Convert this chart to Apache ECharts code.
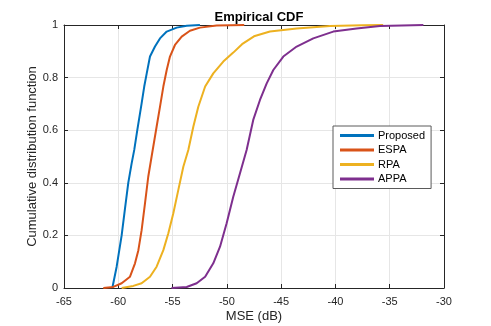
<!DOCTYPE html>
<html>
<head>
<meta charset="utf-8">
<script src="https://cdn.jsdelivr.net/npm/echarts@6/dist/echarts.min.js"></script>
<style>
html,body{margin:0;padding:0;background:#fff;}
#c{width:491px;height:326px;}
</style>
</head>
<body>
<div id="c"></div>
<script>
var seriesNames = ['Proposed', 'ESPA', 'RPA', 'APPA'];
var seriesColors = ['#0072BD', '#D95319', '#EDB120', '#7E2F8E'];

var proposedX = [-60.55, -60.15, -59.69, -59.38, -59.08, -58.77, -58.53, -58.25, -57.85, -57.61, -57.38, -57.08, -56.62, -56.16, -55.54, -54.62, -53.7, -52.48];
var proposedY = [0, 0.081, 0.2, 0.303, 0.4, 0.474, 0.525, 0.6, 0.702, 0.766, 0.816, 0.88, 0.918, 0.949, 0.975, 0.99, 0.997, 1.0];

var espaX = [-61.38, -60.46, -59.69, -58.92, -58.46, -58.15, -57.85, -57.54, -57.24, -56.93, -56.47, -56.16, -55.85, -55.54, -55.24, -54.78, -54.16, -53.4, -52.48, -50.94, -48.4];
var espaY = [0, 0.004, 0.018, 0.043, 0.094, 0.144, 0.22, 0.322, 0.423, 0.5, 0.613, 0.689, 0.766, 0.829, 0.88, 0.924, 0.956, 0.978, 0.99, 0.998, 1.0];

var rpaX = [-59.69, -58.62, -57.85, -57.08, -56.47, -55.85, -55.39, -54.93, -54.47, -54.01, -53.55, -53.09, -52.63, -52.0, -51.25, -50.33, -49.41, -48.6, -47.5, -46.03, -43.57, -40.5, -37.5, -35.6];
var rpaY = [0, 0.008, 0.018, 0.043, 0.081, 0.144, 0.208, 0.284, 0.373, 0.461, 0.525, 0.613, 0.689, 0.766, 0.816, 0.861, 0.895, 0.927, 0.957, 0.975, 0.987, 0.996, 0.999, 1.0];

var appaX = [-55.1, -53.7, -52.78, -52.0, -51.25, -50.63, -50.02, -49.41, -48.79, -48.18, -47.57, -46.95, -46.33, -45.72, -44.8, -43.57, -42.04, -40.2, -38.05, -35.9, -31.9];
var appaY = [0, 0.004, 0.018, 0.043, 0.094, 0.157, 0.246, 0.347, 0.436, 0.525, 0.639, 0.715, 0.778, 0.829, 0.88, 0.918, 0.949, 0.975, 0.987, 0.996, 1.0];

var xTicks = [-65, -60, -55, -50, -45, -40, -35, -30];
var yTicks = [0, 0.2, 0.4, 0.6, 0.8, 1];

function pairs(xs, ys) {
  return xs.map(function (x, i) { return [x, ys[i]]; });
}
var allX = [proposedX, espaX, rpaX, appaX];
var allY = [proposedY, espaY, rpaY, appaY];

var font = 'Liberation Sans, Arial, Helvetica, sans-serif';
var axisCol = '#262626';

var chart = echarts.init(document.getElementById('c'), null, {renderer: 'canvas'});
chart.setOption({
  animation: false,
  backgroundColor: '#fff',
  title: {
    text: 'Empirical CDF',
    left: 254, textAlign: 'center', top: 6,
    textStyle: {fontFamily: font, fontSize: 13, fontWeight: 'bold', color: '#000'}
  },
  legend: {
    orient: 'vertical',
    left: 333, top: 126,
    width: 96,
    padding: [4, 6, 4, 7],
    itemGap: 3.5,
    itemWidth: 34, itemHeight: 3,
    icon: 'rect',
    backgroundColor: '#fff',
    borderColor: '#5a5a5a', borderWidth: 1,
    textStyle: {fontFamily: font, fontSize: 11, color: '#000', padding: [0, 0, 0, -1]},
    data: seriesNames
  },
  grid: {left: 64, right: 47, top: 25, bottom: 38, containLabel: false, outerBoundsMode: 'none'},
  xAxis: [{
    type: 'value', min: -65, max: -30, interval: 5,
    name: 'MSE (dB)', nameLocation: 'middle', nameGap: 22, nameMoveOverlap: false,
    nameTextStyle: {fontFamily: font, fontSize: 13, color: axisCol},
    axisLine: {show: true, onZero: false, lineStyle: {color: axisCol, width: 1}},
    axisTick: {show: true, inside: true, length: 4, lineStyle: {color: axisCol}},
    axisLabel: {fontFamily: font, fontSize: 11, color: axisCol, margin: 8,
      formatter: function (v) { return xTicks.indexOf(v) >= 0 ? String(v) : ''; }},
    splitLine: {show: true, lineStyle: {color: '#e6e6e6', width: 1}}
  }, {
    type: 'value', position: 'top', min: -65, max: -30, interval: 5,
    axisLine: {show: true, onZero: false, lineStyle: {color: axisCol, width: 1}},
    axisTick: {show: true, inside: true, length: 4, lineStyle: {color: axisCol}},
    axisLabel: {show: false}, splitLine: {show: false}
  }],
  yAxis: [{
    type: 'value', min: 0, max: 1, interval: 0.2,
    name: 'Cumulative distribution function', nameLocation: 'middle', nameGap: 25, nameMoveOverlap: false,
    nameTextStyle: {fontFamily: font, fontSize: 13, color: axisCol},
    axisLine: {show: true, onZero: false, lineStyle: {color: axisCol, width: 1}},
    axisTick: {show: true, inside: true, length: 4, lineStyle: {color: axisCol}},
    axisLabel: {fontFamily: font, fontSize: 11, color: axisCol, margin: 6,
      formatter: function (v) { return String(Math.round(v * 10) / 10); }},
    splitLine: {show: true, lineStyle: {color: '#e6e6e6', width: 1}}
  }, {
    type: 'value', position: 'right', min: 0, max: 1, interval: 0.2,
    axisLine: {show: true, onZero: false, lineStyle: {color: axisCol, width: 1}},
    axisTick: {show: true, inside: true, length: 4, lineStyle: {color: axisCol}},
    axisLabel: {show: false}, splitLine: {show: false}
  }],
  series: seriesNames.map(function (n, i) {
    return {
      name: n, type: 'line',
      xAxisIndex: 0, yAxisIndex: 0,
      data: pairs(allX[i], allY[i]),
      showSymbol: false, symbol: 'none',
      lineStyle: {color: seriesColors[i], width: 2},
      itemStyle: {color: seriesColors[i]},
      clip: false,
      z: 2 + i
    };
  })
});
</script>
</body>
</html>
